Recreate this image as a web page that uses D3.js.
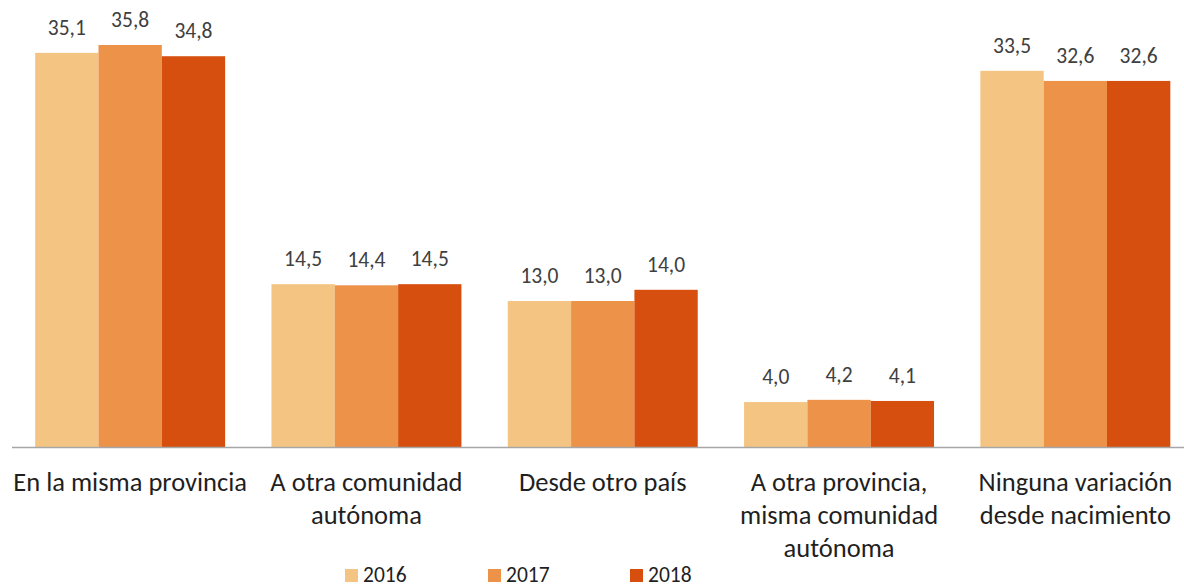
<!DOCTYPE html>
<html>
<head>
<meta charset="utf-8">
<script src="https://cdn.jsdelivr.net/npm/d3@7"></script>
<style>
  body { margin: 0; background: #fff; }
  svg { display: block; font-family: Carlito, "Open Sans", sans-serif; }
</style>
</head>
<body>
<svg id="chart" width="1184" height="586"></svg>
<script>
// Chart data
const categories = [
    ["En la misma provincia"],
    ["A otra comunidad", "autónoma"],
    ["Desde otro país"],
    ["A otra provincia,", "misma comunidad", "autónoma"],
    ["Ninguna variación", "desde nacimiento"]
];
const years = ["2016", "2017", "2018"];
const values2016 = [35.1, 14.5, 13.0, 4.0, 33.5];
const values2017 = [35.8, 14.4, 13.0, 4.2, 32.6];
const values2018 = [34.8, 14.5, 14.0, 4.1, 32.6];
const colors = ["#f4c482", "#ed9249", "#d64f0f"];

const series = [values2016, values2017, values2018];
const svg = d3.select("#chart");
const baseY = 447;

const x0 = d3.scaleBand()
    .domain(d3.range(categories.length))
    .range([12, 1193.5])
    .paddingInner(0)
    .paddingOuter(0);

const x1 = d3.scaleBand()
    .domain(d3.range(years.length))
    .range([0, x0.bandwidth()])
    .paddingInner(0)
    .paddingOuter(0.366);

const y = d3.scaleLinear()
    .domain([0, 35.8])
    .range([baseY, 45]);

const fmt = v => d3.format(".1f")(v).replace(".", ",");

// Bars
const groups = svg.append("g")
    .selectAll("g")
    .data(categories.map((c, i) => i))
    .join("g")
    .attr("transform", i => `translate(${x0(i)},0)`);

groups.selectAll("rect")
    .data(i => series.map((s, k) => ({ k, v: s[i] })))
    .join("rect")
    .attr("x", d => x1(d.k))
    .attr("width", x1.bandwidth())
    .attr("y", d => y(d.v))
    .attr("height", d => baseY - y(d.v))
    .attr("fill", d => colors[d.k]);

groups.selectAll("text.val")
    .data(i => series.map((s, k) => ({ k, v: s[i] })))
    .join("text")
    .attr("class", "val")
    .attr("x", d => x1(d.k) + x1.bandwidth() / 2)
    .attr("y", d => y(d.v) - 18)
    .attr("text-anchor", "middle")
    .style("font-size", "21.5px")
    .style("fill", "#404040")
    .text(d => fmt(d.v));

// Axis line
svg.append("line")
    .attr("x1", 12).attr("x2", 1184)
    .attr("y1", baseY + 0.5).attr("y2", baseY + 0.5)
    .attr("stroke", "#a6a6a6")
    .attr("stroke-width", 1.3);

// Category labels
groups.append("text")
    .attr("text-anchor", "middle")
    .style("font-size", "26.5px")
    .style("fill", "#1f1f1f")
    .selectAll("tspan")
    .data(i => categories[i])
    .join("tspan")
    .attr("x", x0.bandwidth() / 2)
    .attr("y", (d, j) => 491 + j * 33)
    .text(d => d);

// Legend
const legendX = [345, 488, 630];
const legend = svg.append("g");
years.forEach((yr, k) => {
    const item = legend.append("g").attr("transform", `translate(${legendX[k]},569)`);
    item.append("rect")
        .attr("width", 13).attr("height", 13)
        .attr("fill", colors[k]);
    item.append("text")
        .attr("x", 18)
        .attr("y", 13)
        .style("font-size", "21.5px")
        .style("fill", "#1f1f1f")
        .text(yr);
});
</script>
</body>
</html>
